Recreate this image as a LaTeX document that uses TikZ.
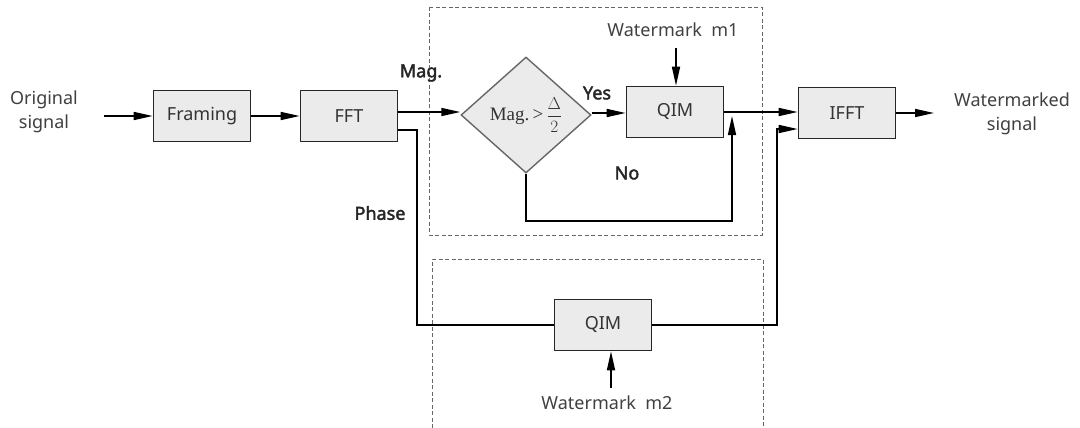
\documentclass[tikz,border=0pt]{standalone}
\usepackage{fontspec}
\setmainfont{Noto Sans}[AutoFakeBold=2.2]
\newfontfamily\serifface{Liberation Serif}
\usetikzlibrary{arrows.meta,shapes.geometric}

\tikzset{
  blockbox/.style={draw=black!85, line width=1.6pt, fill=black!8,
    minimum width=97pt, minimum height=51pt, inner sep=0pt,
    text=black!80, font=\fontsize{18}{20}\selectfont},
  decision/.style={diamond, draw=black!60, line width=1.4pt, fill=black!8,
    minimum width=130pt, minimum height=116pt, inner sep=0pt, text=black!80},
  lbl/.style={text=black!75, font=\fontsize{18}{24}\selectfont, inner sep=0pt},
  blbl/.style={text=black!85, font=\bfseries\fontsize{18}{22}\selectfont, inner sep=0pt},
  wire/.style={draw=black, line width=1.6pt},
  arr/.style={wire, -{Triangle[length=19pt,width=8pt]}},
  group/.style={draw=black!60, line width=0.9pt, dash pattern=on 4pt off 2.5pt}
}

\begin{document}
\begin{tikzpicture}[x=1pt, y=-1pt]
  \useasboundingbox (0,0) rectangle (1080,428);

  % dashed groups for the magnitude and phase paths
  \draw[group] (429,7) rectangle (762,235);
  \draw[group] (432,428) -- (432,259) -- (763,259) -- (763,428);

  % blocks
  \node[blockbox] (fr)   at (202,116) {Framing};
  \node[blockbox] (fft)  at (349,116) {FFT};
  \node[decision] (dm)   at (526,115)
    {\serifface\fontsize{19}{21}\selectfont Mag.\,>\,$\displaystyle\frac{\Delta}{2}$};
  \node[blockbox] (q1)   at (675,112) {QIM};
  \node[blockbox] (ifft) at (847,113) {IFFT};
  \node[blockbox] (q2)   at (603,325) {QIM};

  % text labels
  \node[lbl, align=center] (orig) at (44,112) {Original\\signal};
  \node[lbl, align=center] (wsig) at (1012,114) {Watermarked\\signal};
  \node[lbl] (m1) at (673,30) {Watermark\ \ m1};
  \node[lbl] (m2) at (607,403) {Watermark\ \ m2};
  \node[blbl] (mag)   at (421,73)  {Mag.};
  \node[blbl] (yes)   at (597,93)  {Yes};
  \node[blbl] (no)    at (627,173) {No};
  \node[blbl] (phase) at (380,213) {Phase};

  % helper points on the wires
  \coordinate (inL)  at (104,116);
  \coordinate (outR) at (934,113);
  \coordinate (m1t)  at (676,48);
  \coordinate (m2b)  at (611,388);
  \coordinate (noX)  at (732,221);
  \coordinate (phX)  at (417,325);
  \coordinate (rtX)  at (777,325);

  % main signal chain
  \draw[arr] (inL) -- (fr.west |- inL);
  \draw[arr] (fr.east) -- (fft.west);
  \draw[arr] (fft.east |- 0,112) -- (dm.west |- 0,112);
  \draw[arr] (dm.east |- 0,113) -- (q1.west |- 0,113);
  \draw[arr] (q1.east |- 0,112) -- (ifft.west |- 0,112);
  \draw[arr] (ifft.east |- outR) -- (outR);

  % watermark inputs
  \draw[arr] (m1t) -- (m1t |- q1.north);
  \draw[arr] (m2b) -- (m2b |- q2.south);

  % "No" bypass around the QIM block
  \draw[arr] (dm.south) -- (dm.south |- noX) -- (noX) -- (noX |- 0,116);

  % phase path
  \draw[wire] (fft.east |- 0,130) -- (phX |- 0,130) -- (phX) -- (q2.west);
  \draw[arr] (q2.east) -- (rtX) -- (rtX |- 0,129) -- (ifft.west |- 0,129);
\end{tikzpicture}
\end{document}
